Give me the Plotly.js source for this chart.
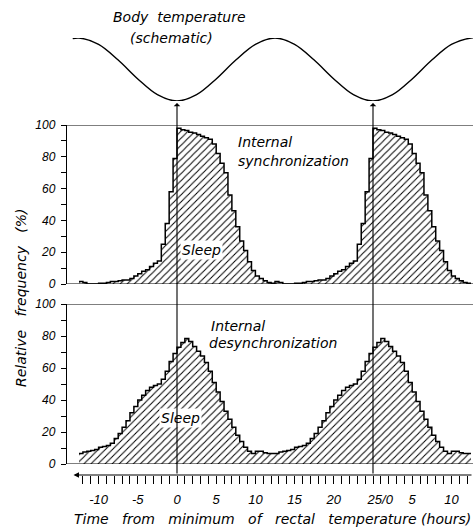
<!DOCTYPE html>
<html><head><meta charset="utf-8">
<script src="https://cdn.plot.ly/plotly-3.0.1.min.js"></script>
<style>html,body{margin:0;padding:0;background:#fff}</style>
</head><body><div id="chart" style="width:473px;height:529px"></div>
<script>
// ---- data (one 25-hour cycle, half-hour bins; the figure double-plots it) ----
const cycleBinStarts = [-12.5,-12,-11.5,-11,-10.5,-10,-9.5,-9,-8.5,-8,-7.5,-7,-6.5,-6,-5.5,-5,-4.5,-4,-3.5,-3,-2.5,-2,-1.5,-1,-0.5,
  0,0.5,1,1.5,2,2.5,3,3.5,4,4.5,5,5.5,6,6.5,7,7.5,8,8.5,9,9.5,10,10.5,11,11.5,12];
const syncFreq = [1.5,1,0,0,0,0.5,0.5,1,1.5,1.5,2,2.5,2.5,3.5,5,6.5,8,9,11,13,14.5,25,38,58,79,
  98,97,96.5,95.5,95,94,93,92,91,88,82,76,70,56,46,36,27,21,14,8.5,5,3.5,2,1,0.5];
const desyncFreq = [6.5,7.5,8,8.5,9,10.5,11,11.5,13,16,19,23,27,32,36,40,43,46,48,49,50,53,58,64,69,
  73,76,78.5,76.5,73.5,70.5,67.5,63.5,58,51,45,39,33,28,23,18,14,10.5,8,6.5,8,8,7,6.5,6.5];
const cycleLength = 25;
const tempHours = [-13.3,-12.5,-10,-7.5,-5,-2.5,0,2.5,5,7.5,10,12.5,15,17.5,20,22.5,25,27.5,30,32.5,35,37.5,37.9];
const tempLevel = [0.99,1,0.9,0.65,0.35,0.1,0,0.1,0.35,0.65,0.9,1,0.9,0.65,0.35,0.1,0,0.1,0.35,0.65,0.9,1,1];
const xTickVals = [-10,-5,0,5,10,15,20,25,30,35];
const xTickText = ['-10','-5','0','5','10','15','20','\u00a0\u00a0\u00a0\u00a025/0','5','10'];
const xMinorVals = [-12,-11,-10,-9,-8,-7,-6,-5,-4,-3,-2,-1,0,1,2,3,4,5,6,7,8,9,10,11,12,13,14,15,16,17,18,19,20,21,22,23,24,25,26,27,28,29,30,31,32,33,34,35,36,37];
const yTickVals = [0,20,40,60,80,100];
const yMinorVals = [10,30,50,70,90];
const minimaHours = [0, 25];

// ---- helpers ----
const W = 473, H = 529;
const px = p => p / W;
const py = p => 1 - p / H;
function doublePlot(vals) {
  const xs = [], ys = [];
  const bw = cycleBinStarts[1] - cycleBinStarts[0];
  for (let c = 0; c < 2; c++) cycleBinStarts.forEach((h, i) => { xs.push(h + c * cycleLength); ys.push(vals[i]); });
  xs.push(cycleBinStarts[cycleBinStarts.length - 1] + cycleLength + bw);
  ys.push(vals[vals.length - 1]);
  return { xs, ys };
}
const FONT = { family: 'Liberation Sans', size: 12, color: 'black', style: 'italic' };
const TFONT = { family: 'DejaVu Sans', size: 14, color: 'black', style: 'italic' };
const hatch = { shape: '/', fgcolor: 'black', bgcolor: 'white', size: 5, solidity: 0.2 };

const s = doublePlot(syncFreq), d = doublePlot(desyncFreq);
const traces = [
  { x: tempHours, y: tempLevel, xaxis: 'x', yaxis: 'y', mode: 'lines', line: { color: 'black', width: 1.4, shape: 'spline' }, hoverinfo: 'skip' },
  { x: s.xs, y: s.ys, xaxis: 'x', yaxis: 'y2', mode: 'lines', line: { color: 'black', width: 1.5, shape: 'hv' }, fill: 'tozeroy', fillpattern: hatch, fillcolor: 'white', hoverinfo: 'skip' },
  { x: d.xs, y: d.ys, xaxis: 'x', yaxis: 'y3', mode: 'lines', line: { color: 'black', width: 1.5, shape: 'hv' }, fill: 'tozeroy', fillpattern: hatch, fillcolor: 'white', hoverinfo: 'skip' }
];

const x0 = 67, hr = 7.84, zeroPx = 177;
const xRange = [(x0 - zeroPx) / hr, (W - zeroPx) / hr];

const yAxisCommon = {
  range: [0, 100], anchor: 'x', side: 'left', showgrid: false, zeroline: false,
  showline: true, linecolor: 'black', linewidth: 1.2,
  tickmode: 'array', tickvals: yTickVals, ticks: 'outside', ticklen: 5, tickwidth: 1, tickcolor: 'black',
  minor: { tickmode: 'array', tickvals: yMinorVals, ticks: 'outside', ticklen: 5, tickwidth: 1, tickcolor: 'black', showgrid: false },
  tickfont: FONT, ticklabelstandoff: 3, fixedrange: true
};

const hline = (yref, yv) => ({ type: 'line', xref: 'paper', yref: yref, x0: px(x0), x1: 1, y0: yv, y1: yv, line: { color: 'black', width: 1.2 } });

const txt = (x, y, text, extra) => Object.assign({ xref: 'paper', yref: 'paper', x: px(x), y: py(y), text: text, showarrow: false, xanchor: 'center', yanchor: 'middle', font: TFONT }, extra || {});
const sp = '\u00a0\u00a0';

const axisLinePy = 475, arrowTipPy = 103;
const annotations = [
  txt(179, 17, 'Body' + sp + 'temperature'),
  txt(171, 38, '(schematic)'),
  txt(236, 142, 'Internal', { xanchor: 'left' }),
  txt(236, 161, 'synchronization', { xanchor: 'left' }),
  txt(209, 326, 'Internal', { xanchor: 'left' }),
  txt(207, 343, 'desynchronization', { xanchor: 'left' }),
  txt(201, 250, 'Sleep', { bgcolor: 'white', borderpad: 1 }),
  txt(180, 418, 'Sleep', { bgcolor: 'white', borderpad: 1 }),
  txt(21, 298, 'Relative' + sp + '\u00a0frequency' + sp + '\u00a0(%)', { textangle: -90 }),
  txt(272, 519, ['Time', 'from', 'minimum', 'of', 'rectal', 'temperature'].join(sp + '\u00a0') + '\u00a0(hours)'),
  // time axis line with leftward arrow
  { xref: 'x', yref: 'paper', axref: 'x', ayref: 'pixel', x: -13.2, y: py(axisLinePy), ax: xRange[1], ay: 0, text: '', showarrow: true, arrowhead: 2, arrowsize: 1, arrowwidth: 1.1, arrowcolor: 'black', standoff: 0, startstandoff: 0 }
];
minimaHours.forEach(h => annotations.push({
  xref: 'x', yref: 'paper', axref: 'pixel', ayref: 'pixel', x: h, y: py(arrowTipPy), ax: 0, ay: axisLinePy - arrowTipPy,
  text: '', showarrow: true, arrowhead: 1, arrowsize: 1, arrowwidth: 1.1, arrowcolor: 'black', standoff: 0, startstandoff: 0
}));

const layout = {
  width: W, height: H, margin: { l: 0, r: 0, t: 0, b: 0 },
  paper_bgcolor: 'white', plot_bgcolor: 'rgba(0,0,0,0)', showlegend: false,
  xaxis: {
    domain: [px(x0), 1], range: xRange, anchor: 'free', position: py(axisLinePy),
    showgrid: false, zeroline: false, showline: false,
    tickmode: 'array', tickvals: xTickVals, ticktext: xTickText, ticks: 'outside', ticklen: 8, tickwidth: 1, tickcolor: 'black',
    minor: { tickmode: 'array', tickvals: xMinorVals, ticks: 'outside', ticklen: 8, tickwidth: 1, tickcolor: 'black', showgrid: false },
    tickfont: Object.assign({}, FONT, { size: 13 }), ticklabelstandoff: 4, fixedrange: true
  },
  yaxis: { domain: [py(101), py(38)], range: [0, 1], visible: false, fixedrange: true },
  yaxis2: Object.assign({ domain: [py(284), py(125)] }, yAxisCommon),
  yaxis3: Object.assign({ domain: [py(464), py(304)] }, yAxisCommon),
  shapes: [hline('y2', 100), hline('y2', 0), hline('y3', 100), hline('y3', 0)],
  annotations: annotations
};

Plotly.newPlot('chart', traces, layout, { staticPlot: true, displayModeBar: false });
</script>
</body></html>
